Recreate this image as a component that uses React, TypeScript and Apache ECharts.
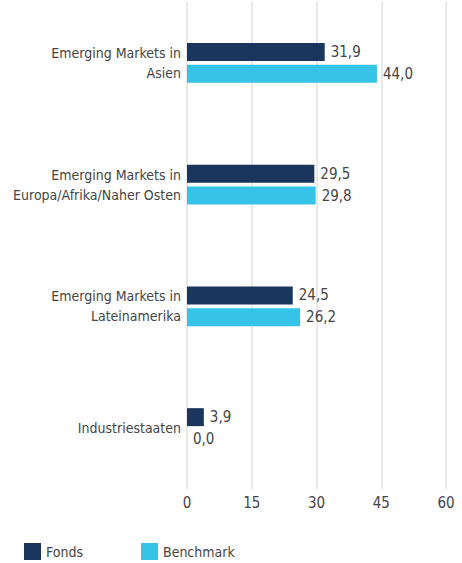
import React, { useEffect, useRef } from "react";
import * as echarts from "echarts";

const categories = [
  "Emerging Markets in\nAsien",
  "Emerging Markets in\nEuropa/Afrika/Naher Osten",
  "Emerging Markets in\nLateinamerika",
  "Industriestaaten",
];
const fonds = [31.9, 29.5, 24.5, 3.9];
const benchmark = [44.0, 29.8, 26.2, 0.0];
const seriesNames = ["Fonds", "Benchmark"];

const FONT = "'DejaVu Sans Condensed', 'Liberation Sans Narrow', sans-serif";
const TEXT = "#454545";

export default function App() {
  const ref = useRef<HTMLDivElement>(null);
  useEffect(() => {
    const chart = echarts.init(ref.current!, undefined, { renderer: "svg" });
    const fmt = (p: any) => Number(p.value).toFixed(1).replace(".", ",");
    chart.setOption({
      animation: false,
      textStyle: { fontFamily: FONT },
      legend: {
        left: 19,
        bottom: -2,
        itemWidth: 17,
        itemHeight: 17,
        itemGap: 58,
        icon: "rect",
        textStyle: { fontFamily: FONT, fontSize: 14, color: TEXT },
        data: seriesNames,
      },
      grid: { left: 187, right: 16, top: 2, height: 487, containLabel: false, outerBoundsMode: "none" },
      xAxis: {
        type: "value",
        min: 0,
        max: 60,
        interval: 15,
        axisLine: { show: false },
        axisTick: { show: false },
        axisLabel: { fontFamily: FONT, fontSize: 15, color: TEXT, margin: 6 },
        splitLine: { show: true, lineStyle: { color: "#ebe9e6", width: 2 } },
      },
      yAxis: {
        type: "category",
        inverse: true,
        data: categories,
        axisLine: { show: false },
        axisTick: { show: false },
        axisLabel: {
          fontFamily: FONT,
          fontSize: 14,
          color: TEXT,
          margin: 6,
          lineHeight: 20,
          align: "right",
        },
      },
      series: [
        {
          name: seriesNames[0],
          type: "bar",
          data: fonds,
          barWidth: 18,
          barGap: "22%",
          itemStyle: { color: "#1b365d" },
          label: { show: true, position: "right", distance: 6, formatter: fmt, fontFamily: FONT, fontSize: 15, color: TEXT },
        },
        {
          name: seriesNames[1],
          type: "bar",
          data: benchmark,
          barWidth: 18,
          barGap: "22%",
          itemStyle: { color: "#35c4e8" },
          label: { show: true, position: "right", distance: 6, formatter: fmt, fontFamily: FONT, fontSize: 15, color: TEXT },
        },
      ],
    });
    return () => chart.dispose();
  }, []);
  return (
    <div
      ref={ref}
      style={{ position: "fixed", left: 0, top: 0, width: 462, height: 563, background: "#fff" }}
    />
  );
}
